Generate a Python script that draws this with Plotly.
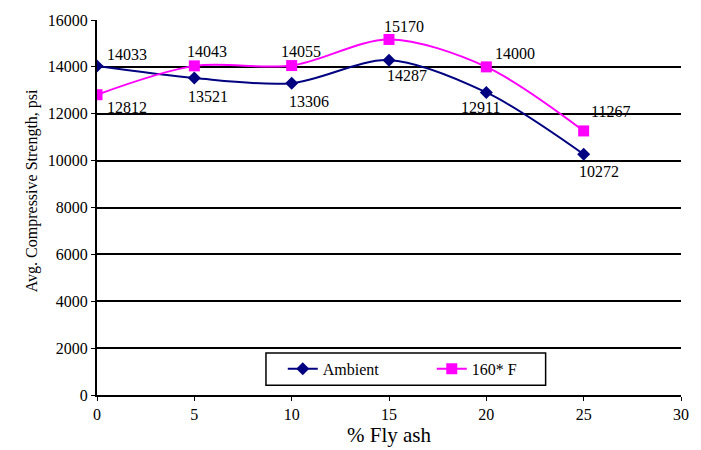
import plotly.graph_objects as go

fly_ash = [0, 5, 10, 15, 20, 25]
ambient = [14033, 13521, 13306, 14287, 12911, 10272]
heated = [12812, 14043, 14055, 15170, 14000, 11267]
y_ticks = [0, 2000, 4000, 6000, 8000, 10000, 12000, 14000, 16000]

# label offsets (px) for each point's value text
amb_off = [(30, -12), (14, 18), (17, 18), (18, 15), (-6, 15), (15, 17)]
hot_off = [(30, 13), (13, -14), (9, -14), (15, -13), (29, -13), (27, -19)]

FONT = "Liberation Serif"
NAVY = "#000080"
MAG = "#FF00FF"

# plot area in pixels
L, R, T, B = 97, 688, 14, 397
W, H = 701, 450


def px_x(p):
    return (p - L) / (R - L)


def px_y(p):
    return (B - p) / (B - T)


fig = go.Figure()
fig.add_trace(go.Scatter(
    x=fly_ash, y=ambient, name="Ambient", mode="lines+markers",
    line=dict(color=NAVY, width=2, shape="spline", smoothing=0.9),
    marker=dict(symbol="diamond", size=10, color=NAVY),
))
fig.add_trace(go.Scatter(
    x=fly_ash, y=heated, name="160* F", mode="lines+markers",
    line=dict(color=MAG, width=2, shape="spline", smoothing=0.9),
    marker=dict(symbol="square", size=11, color=MAG),
))

for xs, ys, offs in ((fly_ash, ambient, amb_off), (fly_ash, heated, hot_off)):
    for xv, yv, (dx, dy) in zip(xs, ys, offs):
        fig.add_annotation(x=xv, y=yv, text=str(yv), showarrow=False,
                           xshift=dx, yshift=-dy,
                           font=dict(family=FONT, size=16, color="black"))

# y axis title
fig.add_annotation(xref="paper", yref="paper", x=px_x(20), y=px_y(188),
                   text="Avg. Compressive Strength, psi", textangle=-90,
                   showarrow=False, font=dict(family=FONT, size=16, color="black"))

# legend frame
fig.add_shape(type="rect", xref="paper", yref="paper",
              x0=px_x(268), x1=px_x(551), y0=px_y(387), y1=px_y(354),
              line=dict(color="black", width=1.5), fillcolor="white", layer="above")

fig.update_layout(
    width=W, height=H,
    margin=dict(l=L, r=W - R, t=T, b=H - B),
    paper_bgcolor="white", plot_bgcolor="white",
    font=dict(family=FONT, size=16, color="black"),
    showlegend=True,
    legend=dict(orientation="h", x=px_x(285), xanchor="left", y=px_y(353),
                yanchor="top", borderwidth=0, bgcolor="rgba(0,0,0,0)",
                entrywidth=104, entrywidthmode="pixels",
                font=dict(family=FONT, size=16)),
    xaxis=dict(range=[0, 30], tickvals=[0, 5, 10, 15, 20, 25, 30],
               showgrid=False, zeroline=False, showline=True, linecolor="black",
               linewidth=2, ticks="outside", ticklen=4, tickcolor="black",
               tickfont=dict(family=FONT, size=16),
               title=dict(text="% Fly ash", font=dict(family=FONT, size=21), standoff=0)),
    yaxis=dict(range=[0, 16000], tickvals=y_ticks, ticktext=[str(v) for v in y_ticks],
               showgrid=True, gridcolor="black", gridwidth=2, zeroline=False,
               showline=True, linecolor="black", linewidth=2,
               ticks="outside", ticklen=4, tickcolor="black",
               tickfont=dict(family=FONT, size=16)),
)

fig.write_html("out.html")
